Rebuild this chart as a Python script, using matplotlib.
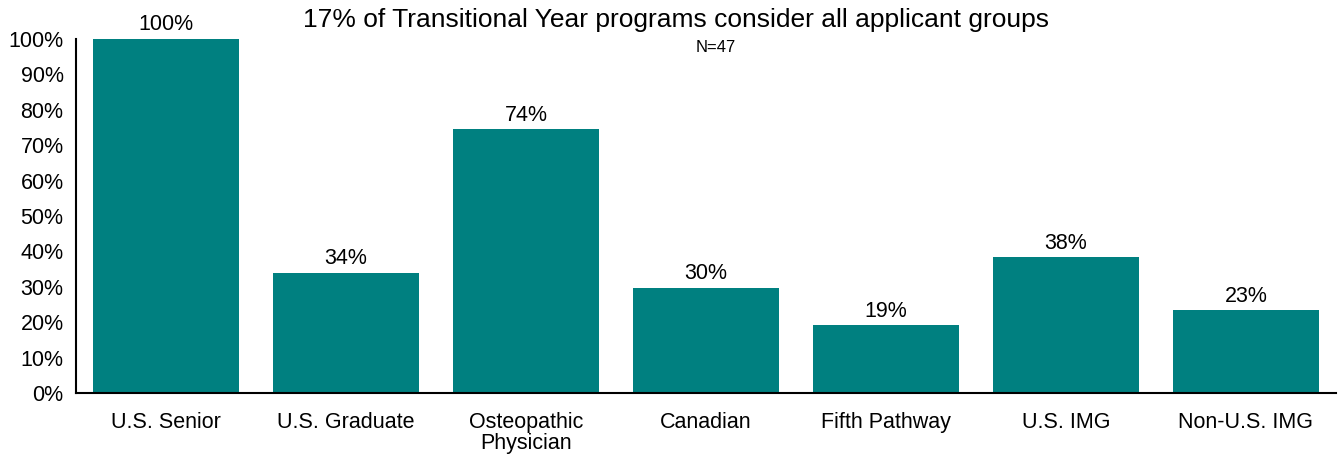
import matplotlib
matplotlib.use('Agg')
import matplotlib.pyplot as plt
from matplotlib.ticker import PercentFormatter

categories = ['U.S. Senior', 'U.S. Graduate', 'Osteopathic\nPhysician', 'Canadian',
              'Fifth Pathway', 'U.S. IMG', 'Non-U.S. IMG']
values = [100, 34.0, 74.5, 29.8, 19.1, 38.3, 23.4]
title = '17% of Transitional Year programs consider all applicant groups'
subtitle = 'N=47'

plt.rcParams['font.family'] = ['Liberation Sans', 'DejaVu Sans']

fig = plt.figure(figsize=(13.39, 4.55), dpi=100)
ax = fig.add_axes([76 / 1339, 62 / 455, 1260 / 1339, 354 / 455])

x = range(len(categories))
bars = ax.bar(x, values, width=0.81, color='#008080')
for b, v in zip(bars, values):
    ax.text(b.get_x() + b.get_width() / 2, v + 1.0, f'{round(v)}%', ha='center', va='bottom', fontsize=15.5)

ax.set_xlim(-0.5, len(categories) - 0.5)
ax.set_ylim(0, 100)
ax.set_yticks(range(0, 101, 10))
ax.yaxis.set_major_formatter(PercentFormatter(decimals=0))
ax.set_xticks(list(x))
ax.set_xticklabels(categories, linespacing=1.0)
ax.tick_params(axis='both', length=0, labelsize=15.5)
ax.tick_params(axis='x', pad=14)
ax.tick_params(axis='y', pad=9)
for s in ['top', 'right']:
    ax.spines[s].set_visible(False)
for s in ['left', 'bottom']:
    ax.spines[s].set_linewidth(1.5)

fig.text(676 / 1339, 1 - 20 / 455, title, ha='center', va='center', fontsize=19)
fig.text(716 / 1339, 1 - 47 / 455, subtitle, ha='center', va='center', fontsize=12)

fig.savefig('out.png', dpi=100)
